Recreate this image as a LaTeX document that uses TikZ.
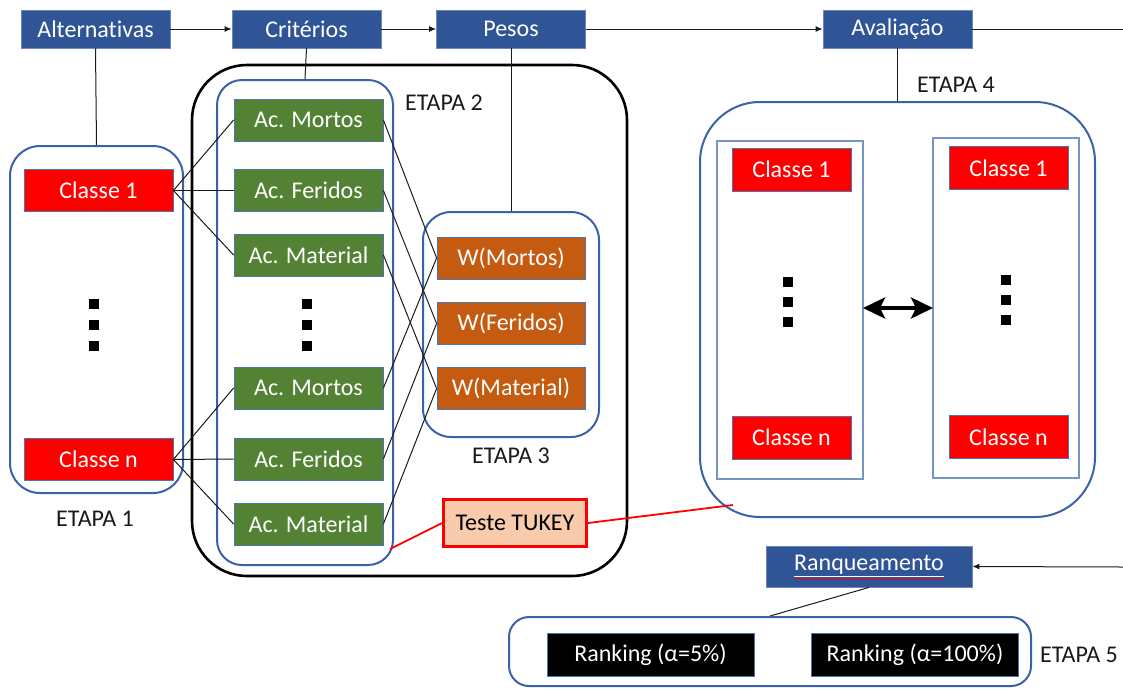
\documentclass[tikz,border=0pt]{standalone}
\usepackage{fontspec}
\setmainfont{Carlito}[Ligatures=NoCommon]
\usetikzlibrary{arrows.meta,decorations.pathmorphing}
\definecolor{hdrblue}{HTML}{2F5597}
\definecolor{hdredge}{HTML}{4A76B0}
\definecolor{grpblue}{HTML}{3A62A8}
\definecolor{accgreen}{HTML}{548235}
\definecolor{wtorange}{HTML}{C55A11}
\definecolor{tukeyfill}{HTML}{F8CBAD}
\definecolor{panelblue}{HTML}{7496C4}
\definecolor{inkgray}{HTML}{1A1A1A}

\begin{document}
\begin{tikzpicture}[x=1pt,y=-1pt,
  every node/.style={font=\fontsize{24}{28}\selectfont},
  box/.style={rectangle, inner sep=0pt, minimum height=42pt, draw=hdredge, line width=0.8pt, text=white},
  hdr/.style={box, fill=hdrblue, draw=hdrblue!70!white, minimum width=149pt, minimum height=38pt},
  cls/.style={box, fill=red, minimum width=149pt},
  cls4/.style={box, fill=red, minimum width=119pt, minimum height=43pt},
  acc/.style={box, fill=accgreen, minimum width=149pt},
  wgt/.style={box, fill=wtorange, minimum width=148pt},
  rank/.style={box, fill=black, minimum width=207pt, minimum height=43pt},
  group/.style={rectangle, draw=grpblue, line width=2pt, rounded corners=#1, inner sep=0pt},
  panel/.style={rectangle, draw=panelblue, line width=1.2pt, inner sep=0pt, minimum width=146pt},
  link/.style={draw=inkgray, line width=1pt},
  flow/.style={link, -{Latex[length=7pt,width=6pt]}},
  redlink/.style={draw=red, line width=1.8pt},
  stage/.style={text=inkgray, inner sep=0pt},
  dot/.style={rectangle, fill=black, minimum width=10pt, minimum height=10pt, inner sep=0pt},
]
\useasboundingbox (0,0) rectangle (1123,689);

% ---------- stage containers ----------
\node[group=30pt, minimum width=173pt, minimum height=347pt] (e1) at (96.5,319.5) {};
\node[rectangle, draw=black, line width=2.6pt, rounded corners=55pt, minimum width=435pt, minimum height=511pt] (e2) at (409.5,320.5) {};
\node[group=25pt, minimum width=176pt, minimum height=485pt] (e2in) at (305,322.5) {};
\node[group=28pt, minimum width=176pt, minimum height=225pt] (e3) at (511,324.5) {};
\node[group=60pt, minimum width=395pt, minimum height=415pt] (e4) at (897.5,309.5) {};
\node[panel, minimum height=338pt] (e4a) at (790,310) {};
\node[panel, minimum height=340pt] (e4b) at (1006,308) {};
\node[group=20pt, minimum width=522pt, minimum height=69pt] (e5) at (770,651.5) {};

% ---------- header row ----------
\node[hdr] (alt) at (95.5,29) {Alternativas};
\node[hdr] (crit) at (306.5,29) {Critérios};
\node[hdr] (pes) at (511,29) {Pesos};
\node[hdr] (aval) at (897.5,29) {Avaliação};
\coordinate (outR) at (1123,29);

\draw[flow] (alt) -- (crit);
\draw[flow] (crit) -- (pes);
\draw[flow] (pes) -- (aval);
\draw[link] (aval) -- (outR);

\draw[link] (alt.south) -- (e1.north);
\draw[link] (crit.south) -- (e2in.north);
\draw[link] (pes.south) -- (e3.north);
\draw[link] (aval.south) -- (e4.north);

% ---------- stage 1: alternatives ----------
\node[cls] (c1) at (98.5,190.5) {Classe 1};
\node[cls] (cn) at (98.5,459.5) {Classe n};
\node[dot] (ld1) at (94,304) {};
\node[dot] (ld2) at (94,325) {};
\node[dot] (ld3) at (94,346) {};
\node[stage] (s1) at (95,519) {ETAPA 1};

% ---------- stage 2: criteria ----------
\node[acc] (m1) at (308.5,120) {Ac. Mortos};
\node[acc] (f1) at (308.5,190.5) {Ac. Feridos};
\node[acc] (t1) at (308.5,255) {Ac. Material};
\node[dot] (md1) at (307,304) {};
\node[dot] (md2) at (307,325) {};
\node[dot] (md3) at (307,346) {};
\node[acc] (m2) at (308.5,388) {Ac. Mortos};
\node[acc] (f2) at (308.5,459) {Ac. Feridos};
\node[acc] (t2) at (308.5,524) {Ac. Material};
\node[stage, anchor=west] (s2) at (405,103) {ETAPA 2};

\foreach \g in {m1,f1,t1} \draw[link] (c1.east) -- (\g.west);
\foreach \g in {m2,f2,t2} \draw[link] (cn.east) -- (\g.west);

% ---------- stage 3: weights ----------
\node[wgt] (w1) at (511,258) {W(Mortos)};
\node[wgt] (w2) at (511,323.5) {W(Feridos)};
\node[wgt] (w3) at (511,388.5) {W(Material)};
\node[stage] (s3) at (511,456) {ETAPA 3};

\draw[link] (m1.east) -- (w1.west);
\draw[link] (f1.east) -- (w2.west);
\draw[link] (t1.east) -- (w3.west);
\draw[link] (m2.east) -- (w1.west);
\draw[link] (f2.east) -- (w2.west);
\draw[link] (t2.east) -- (w3.west);

% ---------- Tukey test ----------
\node[rectangle, fill=tukeyfill, draw=red, line width=3pt, inner sep=0pt,
      minimum width=143pt, minimum height=47pt, text=black] (tk) at (515,523) {Teste TUKEY};
\coordinate (e2corner) at (390,549);
\coordinate (e4corner) at (733,505);
\draw[redlink] (e2corner) -- (tk.west);
\draw[redlink] (tk.east) -- (e4corner);

% ---------- stage 4: evaluation ----------
\node[cls4] (a1) at (791.5,169.5) {Classe 1};
\node[cls4] (an) at (791.5,437.5) {Classe n};
\node[cls4] (b1) at (1008.5,168) {Classe 1};
\node[cls4] (bn) at (1008.5,437) {Classe n};
\node[dot] (ad1) at (788,282) {};
\node[dot] (ad2) at (788,302) {};
\node[dot] (ad3) at (788,322) {};
\node[dot] (bd1) at (1006,280) {};
\node[dot] (bd2) at (1006,300) {};
\node[dot] (bd3) at (1006,320) {};
\node[stage] (s4) at (956,85) {ETAPA 4};

\coordinate (cmpA) at (863,308);
\coordinate (cmpB) at (933,308);
\draw[line width=4.5pt, {Stealth[length=22pt,width=21pt,inset=5pt]}-{Stealth[length=22pt,width=21pt,inset=5pt]}]
  (cmpA) -- (cmpB);

% ---------- stage 5: ranking ----------
\node[hdr, minimum width=206pt, minimum height=41pt] (rq) at (869,566.5) {};
\node[inner sep=0pt, text=white] (rqt) at (869,566) {\underline{Ranqueamento}};
\draw[red, line width=0.6pt, decorate, decoration={snake, amplitude=0.7pt, segment length=3pt}]
  ([yshift=-2pt]rqt.south west) -- ([yshift=-2pt]rqt.south east);
\coordinate (inR) at (1123,567);
\draw[flow] (inR) -- (rq.east);

\draw[link] (rq.south) -- (e5.north);
\node[rank] (r5) at (650.5,654.5) {Ranking (α=5\%)};
\node[rank] (r100) at (915,654.5) {Ranking (α=100\%)};
\node[stage, anchor=west] (s5) at (1040,655) {ETAPA 5};
\end{tikzpicture}
\end{document}
